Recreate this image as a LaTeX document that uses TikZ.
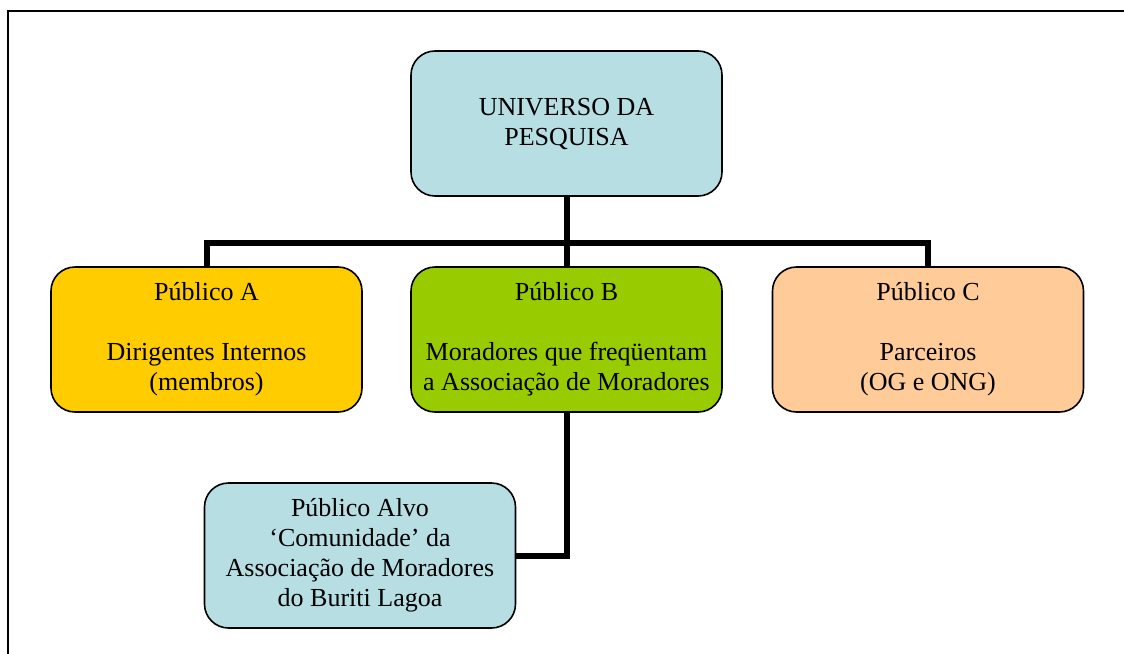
\documentclass[tikz,border=0pt]{standalone}
\usepackage{fontspec}
\setmainfont{Liberation Serif}
\usepackage{tikz}

\definecolor{azulclaro}{HTML}{B7DFE3}
\definecolor{amarelo}{HTML}{FFCC00}
\definecolor{verde}{HTML}{99CC00}
\definecolor{salmao}{HTML}{FFCC99}

\begin{document}
\begin{tikzpicture}[x=1pt,y=-1pt]
\tikzstyle{caixa}=[draw,line width=1.6pt,rounded corners=24pt,minimum width=311pt,minimum height=145pt,align=center,inner sep=0pt,font=\fontsize{26}{30}\selectfont];
\tikzstyle{conector}=[line width=6pt,line join=miter];
\clip (0,0) rectangle (1124,653);
\useasboundingbox (0,0) rectangle (1124,653);
\draw[line width=2pt] (8,11) rectangle (1140,670);

\node[caixa,fill=azulclaro] (universo) at (566.5,123.5) {UNIVERSO DA\\PESQUISA};
\node[caixa,fill=amarelo] (pubA) at (206.5,339.5) {P\'ublico A\\ \\Dirigentes Internos\\(membros)};
\node[caixa,fill=verde] (pubB) at (566.5,339.5) {P\'ublico B\\ \\Moradores que freq\"uentam\\a Associa\c{c}\~ao de Moradores};
\node[caixa,fill=salmao] (pubC) at (928,339.5) {P\'ublico C\\ \\Parceiros\\(OG e ONG)};
\node[caixa,fill=azulclaro] (alvo) at (360,555.5) {P\'ublico Alvo\\`Comunidade' da\\Associa\c{c}\~ao de Moradores\\do Buriti Lagoa};

\coordinate (barra) at (566.5,243);
\draw[conector] (universo.south) -- (pubB.north);
\draw[conector] (pubA.north) -- (pubA.north |- barra) -- (pubC.north |- barra) -- (pubC.north);
\draw[conector] (pubB.south) |- (alvo.east);
\end{tikzpicture}
\end{document}
